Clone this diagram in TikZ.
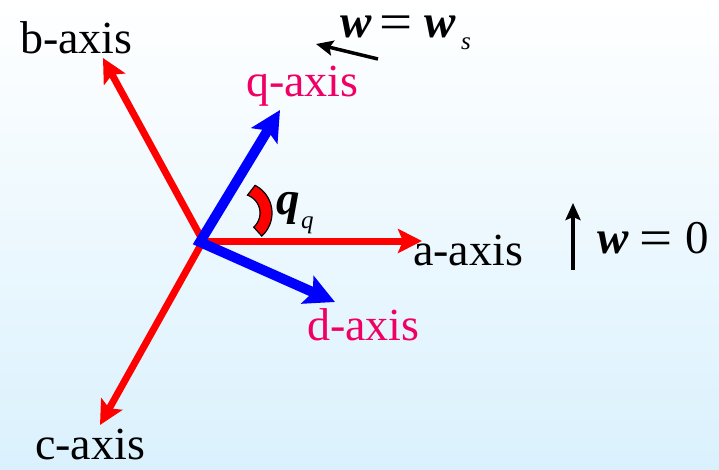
\documentclass[tikz,border=0pt]{standalone}
\usepackage{fontspec}
\usepackage{graphicx}
\setmainfont{Liberation Serif}
\usetikzlibrary{arrows.meta,calc}
\definecolor{axred}{RGB}{255,0,0}
\definecolor{axblue}{RGB}{0,0,255}
\definecolor{axpink}{RGB}{240,0,100}
\definecolor{bgbot}{RGB}{218,241,253}
\newcommand{\bigeq}{\raisebox{-2pt}{\scalebox{1.25}[1.1]{=}}}
\begin{document}
\begin{tikzpicture}[x=1pt,y=-1pt,
  redax/.style={draw=axred, line width=7pt, -{Stealth[length=24pt,width=24pt,inset=5pt]}},
  blueax/.style={draw=axblue, line width=10pt, line join=miter,
    {Stealth[length=30pt,width=30pt,inset=6pt]}-{Stealth[length=30pt,width=30pt,inset=6pt]}},
  blkarr/.style={draw=black, line width=3.5pt, -{Stealth[length=17pt,width=15pt,inset=3pt]}},
  lbl/.style={anchor=base west, inner sep=0pt, font=\fontsize{46}{52}\selectfont},
  eq/.style={anchor=base west, inner sep=0pt, font=\fontsize{47}{52}\selectfont},
  sub/.style={anchor=base west, inner sep=0pt, font=\fontsize{25}{28}\selectfont}]
\useasboundingbox (0,0) rectangle (719,469);
\fill[top color=white, bottom color=bgbot] (0,0) rectangle (719,469);
% axis points
\coordinate (O) at (203,241);
\coordinate (A) at (422,241);
\coordinate (B) at (103,58);
\coordinate (C) at (100,425);
\coordinate (Ob) at (200,242);
\coordinate (Q) at (280,110);
\coordinate (D) at (335,302);
% red abc axes
\draw[redax] (O) -- (A);
\draw[redax] (O) -- (B);
\draw[redax] (O) -- (C);
% blue dq axes
\draw[blueax] (Q) -- (Ob) -- (D);
% angle block arc
\fill[axred, draw=black, line width=1.2pt]
  plot[domain=-63:48, samples=40] ({241+31*cos(\x)},{213+31*sin(\x)})
  -- plot[domain=48:-70, samples=40] ({241+19*cos(\x)},{213+19*sin(\x)}) -- cycle;
% labels
\node[lbl] (lb) at (20,53) {b-axis};
\node[lbl] (la) at (413,265) {a-axis};
\node[lbl] (lc) at (35,459) {c-axis};
\node[lbl, text=axpink] (ld) at (307,340) {d-axis};
\node[lbl, text=axpink] (lq) at (246,96) {q-axis};
% theta
\node[eq] (th) at (276,214) {\textbf{\textit{q}}};
\node[sub] (ths) at (301,228) {\textit{q}};
% omega = omega_s
\node[eq] (ws) at (340,37) {\textbf{\textit{w}}\hspace{8pt}\bigeq\hspace{12pt}\textbf{\textit{w}}};
\node[sub] (wss) at (461,49) {\textit{s}};
\coordinate (wt) at (378,59);
\coordinate (wh) at (316,44);
\draw[blkarr] (wt) -- (wh);
% omega = 0
\node[eq] (w0) at (597,253) {\textbf{\textit{w}}\hspace{11pt}\bigeq\hspace{13pt}0};
\coordinate (ut) at (573,270);
\coordinate (uh) at (573,203);
\draw[blkarr] (ut) -- (uh);
\end{tikzpicture}
\end{document}
